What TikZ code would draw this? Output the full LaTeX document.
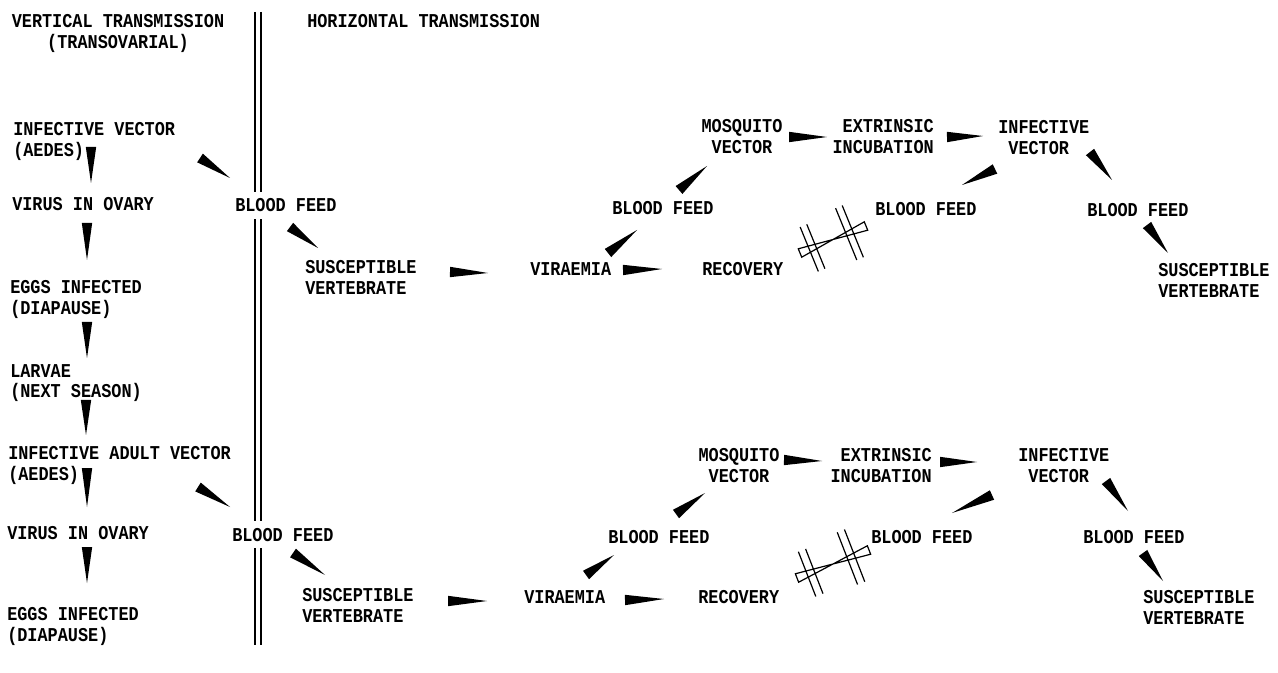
\documentclass[tikz,border=0pt]{standalone}
\usepackage{fontspec}
\setmonofont{Liberation Mono}[FakeStretch=0.86]
\usetikzlibrary{calc}

\begin{document}
\begin{tikzpicture}[
    x=0.75pt, y=-0.75pt,
    font=\ttfamily\bfseries\fontsize{14.7}{15.75}\selectfont,
    txt/.style={inner sep=0pt, anchor=base west, align=left},
    feed/.style={txt, fill=white, inner ysep=4.8pt},
    divider/.style={line width=1.3pt},
    wedge/.style={fill=black, to path={-- ($(\tikztostart)!#1!90:(\tikztotarget)$) -- (\tikztotarget) -- ($(\tikztostart)!#1!-90:(\tikztotarget)$) -- cycle}},
    wedge/.default=3.9pt,
    blocked/.style={draw, fill=white, line width=0.9pt, to path={
        -- ($(\tikztostart)!3.4pt!90:(\tikztotarget)$)
        -- ($(\tikztostart)!0.5!(\tikztotarget)$)
        -- ($(\tikztotarget)!3.4pt!-90:(\tikztostart)$)
        -- ($(\tikztotarget)!3.4pt!90:(\tikztostart)$)
        -- ($(\tikztostart)!0.5!(\tikztotarget)$)
        -- ($(\tikztostart)!3.4pt!-90:(\tikztotarget)$) -- cycle
        ($(\tikztostart)!0.14!(\tikztotarget)!18pt!90:(\tikztotarget)$) -- ($(\tikztostart)!0.14!(\tikztotarget)!18pt!-90:(\tikztotarget)$)
        ($(\tikztostart)!0.24!(\tikztotarget)!18pt!90:(\tikztotarget)$) -- ($(\tikztostart)!0.24!(\tikztotarget)!18pt!-90:(\tikztotarget)$)
        ($(\tikztostart)!0.70!(\tikztotarget)!21pt!90:(\tikztotarget)$) -- ($(\tikztostart)!0.70!(\tikztotarget)!21pt!-90:(\tikztotarget)$)
        ($(\tikztostart)!0.80!(\tikztotarget)!21pt!90:(\tikztotarget)$) -- ($(\tikztostart)!0.80!(\tikztotarget)!21pt!-90:(\tikztotarget)$)}}
]
\useasboundingbox (0,0) rectangle (1278,673);

\draw[divider] (255,12) -- (255,645);
\draw[divider] (261,12) -- (261,645);

\node[txt, anchor=base, align=center] (vert) at (118,49) {VERTICAL TRANSMISSION\\(TRANSOVARIAL)};
\node[txt] (horiz) at (307,28) {HORIZONTAL TRANSMISSION};

\node[txt] (infvec1) at (13,157) {INFECTIVE VECTOR\\(AEDES)};
\node[txt] (ovary1) at (12,211) {VIRUS IN OVARY};
\node[txt] (eggs1) at (10,315) {EGGS INFECTED\\(DIAPAUSE)};
\node[txt] (larvae) at (10,398) {LARVAE\\(NEXT SEASON)};
\node[txt] (infvec2) at (8,480) {INFECTIVE ADULT VECTOR\\(AEDES)};
\node[txt] (ovary2) at (7,539) {VIRUS IN OVARY};
\node[txt] (eggs2) at (7,641) {EGGS INFECTED\\(DIAPAUSE)};

\node[feed] (feed1) at (235,212) {BLOOD FEED};
\node[txt] (host1) at (305,295) {SUSCEPTIBLE\\VERTEBRATE};
\node[txt] (viraemia1) at (530,276) {VIRAEMIA};
\node[txt] (recovery1) at (702,276) {RECOVERY};
\node[txt] (feedA1) at (612,215) {BLOOD FEED};
\node[txt, anchor=base, align=center] (mosq1) at (742,154) {MOSQUITO\\VECTOR};
\node[txt, anchor=base east, align=right] (incub1) at (934,154) {EXTRINSIC\\INCUBATION};
\node[txt] (infvec3) at (998,155) {INFECTIVE\\\hphantom{I}VECTOR};
\node[txt] (feedB1) at (875,216) {BLOOD FEED};
\node[txt] (feedC1) at (1087,217) {BLOOD FEED};
\node[txt] (host3) at (1158,298) {SUSCEPTIBLE\\VERTEBRATE};

\node[feed] (feed2) at (232,541) {BLOOD FEED};
\node[txt] (host2) at (302,622) {SUSCEPTIBLE\\VERTEBRATE};
\node[txt] (viraemia2) at (524,603) {VIRAEMIA};
\node[txt] (recovery2) at (698,603) {RECOVERY};
\node[txt] (feedA2) at (608,543) {BLOOD FEED};
\node[txt, anchor=base, align=center] (mosq2) at (739,482) {MOSQUITO\\VECTOR};
\node[txt, anchor=base east, align=right] (incub2) at (932,482) {EXTRINSIC\\INCUBATION};
\node[txt] (infvec4) at (1018,482) {INFECTIVE\\\hphantom{I}VECTOR};
\node[txt] (feedB2) at (871,543) {BLOOD FEED};
\node[txt] (feedC2) at (1083,543) {BLOOD FEED};
\node[txt] (host4) at (1143,624) {SUSCEPTIBLE\\VERTEBRATE};

\coordinate (iv1out) at (91,147);   \coordinate (ov1in) at (91,183);
\coordinate (ov1out) at (87,223);   \coordinate (eg1in) at (87,260);
\coordinate (eg1out) at (87,322);   \coordinate (lain) at (87,358);
\coordinate (laout) at (86,400);    \coordinate (iv2in) at (86,435);
\coordinate (iv2out) at (87,468);   \coordinate (ov2in) at (87,507);
\coordinate (ov2out) at (87,547);   \coordinate (eg2in) at (87,583);
\fill[wedge] (iv1out) to (ov1in);
\fill[wedge] (ov1out) to (eg1in);
\fill[wedge] (eg1out) to (lain);
\fill[wedge] (laout) to (iv2in);
\fill[wedge] (iv2out) to (ov2in);
\fill[wedge] (ov2out) to (eg2in);

\coordinate (iv1feed) at (200,158); \coordinate (fd1in) at (230,178);
\coordinate (fd1out) at (290,227);  \coordinate (hs1in) at (318,248);
\coordinate (hs1out) at (450,272);  \coordinate (vr1in) at (488,273);
\coordinate (vr1rec) at (623,270);  \coordinate (rc1in) at (662,269);
\coordinate (vr1out) at (608,253);  \coordinate (fa1in) at (637,230);
\coordinate (fa1out) at (679,190);  \coordinate (mq1in) at (707,166);
\coordinate (mq1out) at (789,137);  \coordinate (in1in) at (827,137);
\coordinate (in1out) at (947,137);  \coordinate (iv3in) at (983,136);
\coordinate (iv3cut) at (995,169);  \coordinate (fb1in) at (962,185);
\coordinate (iv3out) at (1090,152); \coordinate (fc1in) at (1112,180);
\coordinate (fc1out) at (1147,225); \coordinate (hs3in) at (1168,253);
\coordinate (rc1cut) at (800,253);  \coordinate (fb1cut) at (866,226);
\fill[wedge] (iv1feed) to (fd1in);
\fill[wedge] (fd1out) to (hs1in);
\fill[wedge] (hs1out) to (vr1in);
\fill[wedge] (vr1rec) to (rc1in);
\fill[wedge] (vr1out) to (fa1in);
\fill[wedge] (fa1out) to (mq1in);
\fill[wedge] (mq1out) to (in1in);
\fill[wedge] (in1out) to (iv3in);
\fill[wedge] (iv3cut) to (fb1in);
\fill[wedge] (iv3out) to (fc1in);
\fill[wedge] (fc1out) to (hs3in);
\draw[blocked] (rc1cut) to (fb1cut);

\coordinate (iv2feed) at (198,487); \coordinate (fd2in) at (230,507);
\coordinate (fd2out) at (293,553);  \coordinate (hs2in) at (325,575);
\coordinate (hs2out) at (448,601);  \coordinate (vr2in) at (487,601);
\coordinate (vr2rec) at (625,600);  \coordinate (rc2in) at (664,599);
\coordinate (vr2out) at (586,575);  \coordinate (fa2in) at (614,555);
\coordinate (fa2out) at (676,514);  \coordinate (mq2in) at (705,493);
\coordinate (mq2out) at (784,460);  \coordinate (in2in) at (822,461);
\coordinate (in2out) at (940,462);  \coordinate (iv4in) at (977,462);
\coordinate (iv4cut) at (992,495);  \coordinate (fb2in) at (952,513);
\coordinate (iv4out) at (1106,481); \coordinate (fc2in) at (1128,511);
\coordinate (fc2out) at (1143,553); \coordinate (hs4in) at (1163,581);
\coordinate (rc2cut) at (797,578);  \coordinate (fb2cut) at (869,550);
\fill[wedge] (iv2feed) to (fd2in);
\fill[wedge] (fd2out) to (hs2in);
\fill[wedge] (hs2out) to (vr2in);
\fill[wedge] (vr2rec) to (rc2in);
\fill[wedge] (vr2out) to (fa2in);
\fill[wedge] (fa2out) to (mq2in);
\fill[wedge] (mq2out) to (in2in);
\fill[wedge] (in2out) to (iv4in);
\fill[wedge] (iv4cut) to (fb2in);
\fill[wedge] (iv4out) to (fc2in);
\fill[wedge] (fc2out) to (hs4in);
\draw[blocked] (rc2cut) to (fb2cut);

\end{tikzpicture}
\end{document}
